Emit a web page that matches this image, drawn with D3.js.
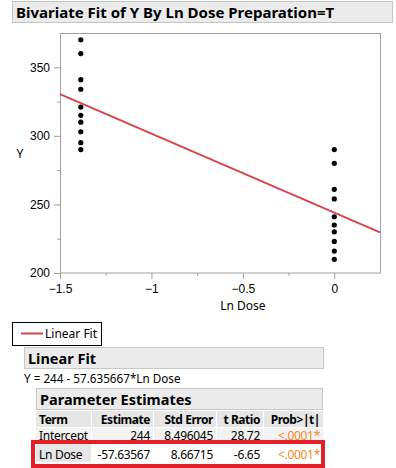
<!DOCTYPE html>
<html>
<head>
<meta charset="utf-8">
<script src="https://cdn.jsdelivr.net/npm/d3@7"></script>
<style>
  body { margin: 0; background: #fff; }
  svg { font-family: "Segoe UI", "Noto Sans", "Open Sans", sans-serif; }
</style>
</head>
<body>
<svg id="chart" width="396" height="468"></svg>
<script>
// points: Ln Dose = ln(0.25) and ln(1)
var doseLevels = [-1.386294, 0];
var yAtLow = [370, 360, 341, 334, 321, 315, 310, 303, 295, 290];
var yAtHigh = [290, 280, 261, 254, 241, 235, 230, 223, 216, 210];

var fitIntercept = 244;
var fitSlope = -57.635667;

var xTicks = [-1.5, -1, -0.5, 0];
var yTicks = [200, 250, 300, 350];

var tableHead = ["Term", "Estimate", "Std Error", "t Ratio", "Prob>|t|"];
var rowIntercept = ["Intercept", "244", "8.496045", "28.72", "<.0001*"];
var rowLnDose = ["Ln Dose", "-57.63567", "8.66715", "-6.65", "<.0001*"];

var svg = d3.select("#chart");

// title bar
svg.append("rect").attr("x", 12.5).attr("y", 1.5).attr("width", 380).attr("height", 21)
    .attr("fill", "#ebebeb").attr("stroke", "#c4c4c4");
svg.append("text").attr("x", 16).attr("y", 17.5)
    .attr("font-size", 15).attr("font-weight", "bold").attr("fill", "#000")
    .text("Bivariate Fit of Y By Ln Dose Preparation=T");

var x = d3.scaleLinear().domain([-1.5, 0.25]).range([60, 380]);
var y = d3.scaleLinear().domain([200, 375]).range([273, 33]);

// axes
var xAxis = svg.append("g").attr("transform", "translate(0,273)")
    .call(d3.axisBottom(x).tickValues(xTicks).tickSize(6).tickFormat(d3.format("")));
svg.append("g").attr("transform", "translate(0,273)")
    .call(d3.axisBottom(x).tickValues([-1.25, -0.75, -0.25]).tickSize(3).tickFormat(""));
var yAxis = svg.append("g").attr("transform", "translate(60,0)")
    .call(d3.axisLeft(y).tickValues(yTicks).tickSize(6));
svg.append("g").attr("transform", "translate(60,0)")
    .call(d3.axisLeft(y).tickValues([225, 275, 325]).tickSize(3).tickFormat(""));
svg.selectAll(".domain").remove();
svg.selectAll(".tick line").attr("stroke", "#a0a0a0");
svg.selectAll(".tick text").attr("font-size", 12).attr("fill", "#000")
    .attr("font-family", "inherit");
xAxis.selectAll(".tick text").attr("dy", "0.9em");
yAxis.selectAll(".tick text").attr("dx", "-1px");

// frame
svg.append("rect").attr("x", 60.5).attr("y", 33.5).attr("width", 320).attr("height", 239.5)
    .attr("fill", "none").attr("stroke", "#a0a0a0");

svg.append("text").attr("x", x(-0.5)).attr("y", 310).attr("text-anchor", "middle")
    .attr("font-size", 12).text("Ln Dose");
svg.append("text").attr("x", 20).attr("y", 158).attr("text-anchor", "middle")
    .attr("font-size", 12).text("Y");

// fit line
svg.append("line")
    .attr("x1", x(-1.5)).attr("y1", y(fitIntercept + fitSlope * -1.5))
    .attr("x2", x(0.25)).attr("y2", y(fitIntercept + fitSlope * 0.25))
    .attr("stroke", "#d6454f").attr("stroke-width", 2);

var pts = yAtLow.map(function (v) { return [doseLevels[0], v]; })
    .concat(yAtHigh.map(function (v) { return [doseLevels[1], v]; }));
svg.selectAll("circle.pt").data(pts).enter().append("circle")
    .attr("class", "pt")
    .attr("cx", function (d) { return x(d[0]); })
    .attr("cy", function (d) { return y(d[1]); })
    .attr("r", 2.6).attr("fill", "#000");

// legend
svg.append("rect").attr("x", 12.5).attr("y", 322.5).attr("width", 89).attr("height", 23)
    .attr("fill", "#fff").attr("stroke", "#000");
svg.append("line").attr("x1", 21).attr("x2", 43).attr("y1", 333.5).attr("y2", 333.5)
    .attr("stroke", "#d6454f").attr("stroke-width", 2);
svg.append("text").attr("x", 45).attr("y", 338).attr("font-size", 12).text("Linear Fit");

// Linear Fit header
svg.append("rect").attr("x", 24.5).attr("y", 347.5).attr("width", 299).attr("height", 21)
    .attr("fill", "#ebebeb").attr("stroke", "#c8c8c8");
svg.append("text").attr("x", 28).attr("y", 363.5).attr("font-size", 14.5)
    .attr("font-weight", "bold").text("Linear Fit");
svg.append("text").attr("x", 24).attr("y", 383).attr("font-size", 11.7)
    .text("Y = " + fitIntercept + " - " + Math.abs(fitSlope) + "*Ln Dose");

// Parameter Estimates header
svg.append("rect").attr("x", 36.5).attr("y", 388.5).attr("width", 286).attr("height", 21)
    .attr("fill", "#ebebeb").attr("stroke", "#c8c8c8");
svg.append("text").attr("x", 40).attr("y", 404.5).attr("font-size", 14.5)
    .attr("font-weight", "bold").text("Parameter Estimates");

// table
var colEdges = [36, 91, 153, 216, 263, 323];
var rowTops = [411, 428, 444];
var rowH = [16, 15, 18];
var rows = [tableHead, rowIntercept, rowLnDose];

rows.forEach(function (row, ri) {
  row.forEach(function (cell, ci) {
    var x0 = colEdges[ci], x1 = colEdges[ci + 1];
    var bg = null;
    if (ri === 0) bg = "#e6e6e6";
    else if (ri === 1) bg = "#f2f2f2";
    else if (ci === 0) bg = "#e6e6e6";
    if (bg) {
      svg.append("rect").attr("x", x0 + (ci > 0 ? 1 : 0)).attr("y", rowTops[ri])
          .attr("width", x1 - x0 - (ci > 0 ? 1 : 0)).attr("height", rowH[ri]).attr("fill", bg);
    }
    var t = svg.append("text")
        .attr("y", rowTops[ri] + rowH[ri] - 3.5)
        .attr("font-size", ri === 0 ? 12 : 12)
        .attr("letter-spacing", ri === 0 ? -0.45 : -0.3)
        .attr("font-weight", ri === 0 ? "bold" : "normal")
        .attr("fill", ri > 0 && ci === 4 ? "#f08a24" : "#000")
        .text(cell);
    if (ci === 0) t.attr("x", x0 + 3);
    else t.attr("x", x1 - 3).attr("text-anchor", "end");
  });
});

// highlight box
svg.append("rect").attr("x", 33).attr("y", 442).attr("width", 290).attr("height", 24)
    .attr("fill", "none").attr("stroke", "#e61e28").attr("stroke-width", 4);
</script>
</body>
</html>
